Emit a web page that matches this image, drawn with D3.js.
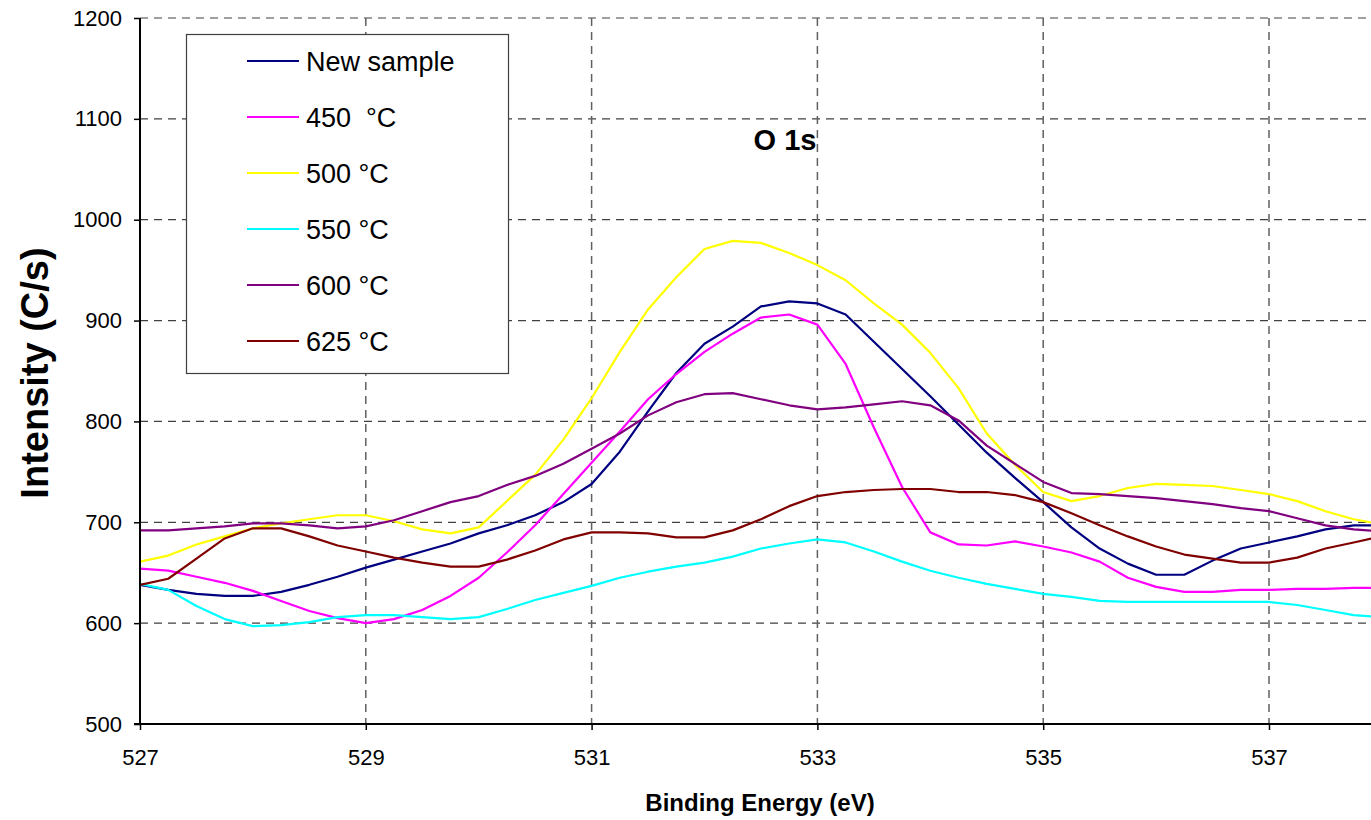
<!DOCTYPE html>
<html><head><meta charset="utf-8">
<script src="https://cdn.jsdelivr.net/npm/d3@7"></script>
<style>
html,body{margin:0;padding:0;background:#fff;}
text{font-family:Arial,"Liberation Sans",sans-serif;}
</style></head>
<body><svg id="c" width="1371" height="820"></svg>
<script>
const energy = [527,527.25,527.5,527.75,528,528.25,528.5,528.75,529,529.25,529.5,529.75,530,530.25,530.5,530.75,531,531.25,531.5,531.75,532,532.25,532.5,532.75,533,533.25,533.5,533.75,534,534.25,534.5,534.75,535,535.25,535.5,535.75,536,536.25,536.5,536.75,537,537.25,537.5,537.75,538];
const newSample = [638,633,629,627,627,631,638,646,655,663,671,679,689,697,707,720,738,770,810,848,877,894,914,919,917,906,879,852,825,797,769,744,720,695,674,659,648,648,662,674,680,686,693,697,697];
const t450 = [654,652,646,640,632,622,612,605,600,604,613,627,645,670,697,728,759,790,822,847,869,887,903,906,896,857,794,735,690,678,677,681,676,670,661,645,636,631,631,633,633,634,634,635,635];
const t500 = [661,667,678,686,694,699,703,707,707,701,693,689,695,721,747,782,823,869,911,943,971,979,977,967,955,940,917,896,868,833,788,757,730,721,726,734,738,737,736,732,728,721,711,703,698];
const t550 = [639,633,617,604,597,598,601,606,608,608,606,604,606,614,623,630,637,645,651,656,660,666,674,679,683,680,671,661,652,645,639,634,629,626,622,621,621,621,621,621,621,618,613,608,606];
const t600 = [692,692,694,696,699,699,697,694,696,702,711,720,726,737,746,758,773,788,806,819,827,828,822,816,812,814,817,820,816,801,776,758,740,729,728,726,724,721,718,714,711,704,697,693,691];
const t625 = [638,644,664,684,694,694,686,677,671,665,660,656,656,663,672,683,690,690,689,685,685,692,703,716,726,730,732,733,733,730,730,727,720,709,697,686,676,668,664,660,660,665,674,680,686];
const seriesNames = ["New sample","450  \u00B0C","500 \u00B0C","550 \u00B0C","600 \u00B0C","625 \u00B0C"];
const seriesColors = ["#000080","#FF00FF","#FFFF00","#00FFFF","#800080","#800000"];
const xTicks = [527,529,531,533,535,537];
const yTicks = [500,600,700,800,900,1000,1100,1200];
const chartTitle = "O 1s";
const xTitle = "Binding Energy (eV)";
const yTitle = "Intensity (C/s)";

const allSeries = [newSample,t450,t500,t550,t600,t625];
const svg = d3.select("#c");
const L=140, T=18, B=724, R=1371;
const x = d3.scaleLinear().domain([527,537]).range([140,1269]);
const y = d3.scaleLinear().domain([500,1200]).range([B,T]);

// gridlines
const g = svg.append("g");
g.selectAll("line.h").data(yTicks.filter(d=>d>500)).enter().append("line")
  .attr("x1",L).attr("x2",R).attr("y1",d=>y(d)).attr("y2",d=>y(d))
  .attr("stroke","#404040").attr("stroke-width",1.2).attr("stroke-dasharray","8,6");
g.selectAll("line.v").data(xTicks.filter(d=>d>527)).enter().append("line")
  .attr("x1",d=>x(d)).attr("x2",d=>x(d)).attr("y1",T).attr("y2",B)
  .attr("stroke","#606060").attr("stroke-width",1.5).attr("stroke-dasharray","8,6");

// clip
svg.append("clipPath").attr("id","clip").append("rect").attr("x",L).attr("y",T-2).attr("width",R-L).attr("height",B-T+4);

const line = d3.line().x((d,i)=>x(energy[i])).y(d=>y(d));
svg.append("g").attr("clip-path","url(#clip)").selectAll("path").data(allSeries).enter().append("path")
  .attr("d",d=>line(d)).attr("fill","none").attr("stroke",(d,i)=>seriesColors[i]).attr("stroke-width",2.2)
  .attr("stroke-linejoin","round");

// axes
const ya = svg.append("g").attr("transform",`translate(${L},0)`)
  .call(d3.axisLeft(y).tickValues(yTicks).tickSize(6).tickPadding(12).tickFormat(d3.format("d")));
const xa = svg.append("g").attr("transform",`translate(0,${B})`)
  .call(d3.axisBottom(x).tickValues(xTicks).tickSize(6).tickPadding(19).tickFormat(d3.format("d")));
[ya,xa].forEach(a=>{
  a.select(".domain").remove();
  a.selectAll(".tick line").attr("stroke","#000").attr("stroke-width",1.5);
  a.selectAll("text").attr("font-size",22).attr("fill","#000").attr("font-family","Arial, 'Liberation Sans', sans-serif");
});
svg.append("line").attr("x1",L).attr("x2",L).attr("y1",T).attr("y2",B).attr("stroke","#000").attr("stroke-width",2);
svg.append("line").attr("x1",L-6).attr("x2",R).attr("y1",B).attr("y2",B).attr("stroke","#000").attr("stroke-width",2);

// titles
svg.append("text").attr("x",785).attr("y",150).attr("text-anchor","middle")
  .attr("font-size",29).attr("font-weight","bold").text(chartTitle);
svg.append("text").attr("x",760).attr("y",811).attr("text-anchor","middle")
  .attr("font-size",24).attr("font-weight","bold").text(xTitle);
svg.append("text").attr("transform","translate(48,373) rotate(-90)").attr("text-anchor","middle")
  .attr("font-size",38).attr("font-weight","bold").text(yTitle);

// legend
const lg = svg.append("g");
lg.append("rect").attr("x",186.5).attr("y",34.5).attr("width",322).attr("height",339)
  .attr("fill","#fff").attr("stroke","#404040").attr("stroke-width",1.2);
seriesNames.forEach((n,i)=>{
  const yy = 61 + i*56;
  lg.append("line").attr("x1",247).attr("x2",299).attr("y1",yy).attr("y2",yy)
    .attr("stroke",seriesColors[i]).attr("stroke-width",2.2);
  lg.append("text").attr("x",306).attr("y",yy+10).attr("font-size",27)
    .attr("xml:space","preserve").style("white-space","pre").text(n);
});
</script></body></html>
